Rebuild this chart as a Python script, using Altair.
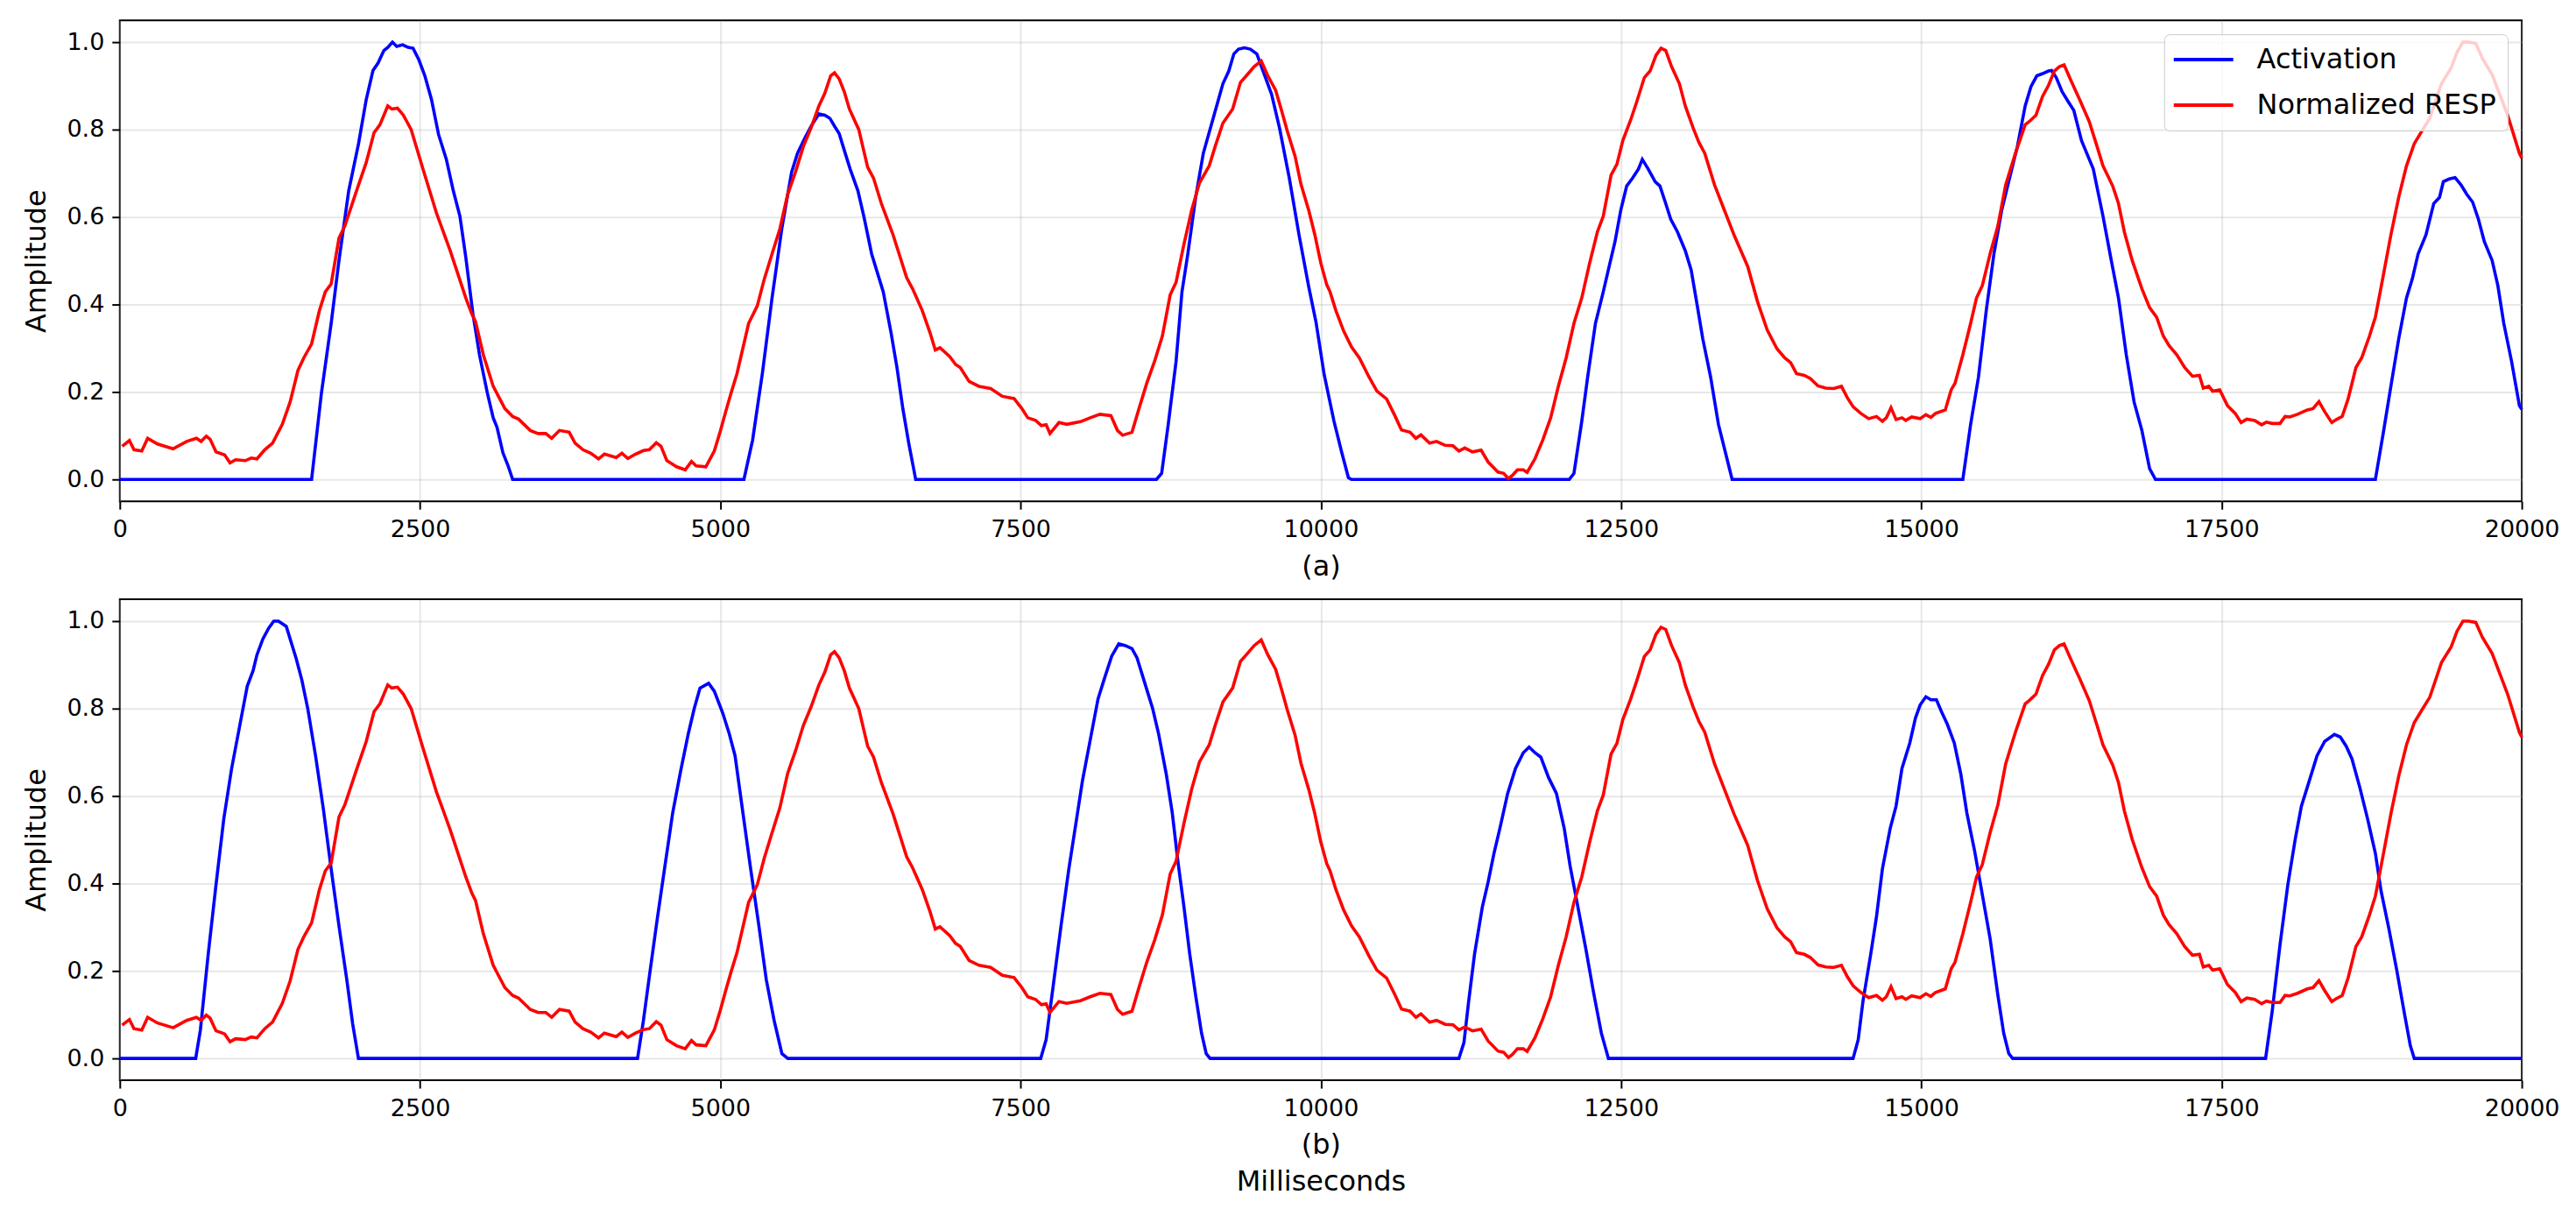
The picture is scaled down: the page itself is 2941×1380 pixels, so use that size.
import altair as alt
import pandas as pd

# ---------------- data ----------------
# Normalized RESP (same trace in both panels): time (ms) and value
resp_ms = [20, 80, 118, 183, 232, 314, 444, 557, 638, 677, 720, 752, 801, 873, 918, 964,
           1045, 1094, 1142, 1207, 1272, 1353, 1418, 1483, 1532, 1597, 1662, 1711, 1760, 1825,
           1874, 1971, 2052, 2117, 2166, 2231, 2264, 2312, 2361, 2426, 2524, 2637, 2751, 2881,
           2930, 2962, 3027, 3109, 3206, 3271, 3320, 3418, 3483, 3547, 3596, 3661, 3742, 3791,
           3856, 3921, 3986, 4035, 4133, 4181, 4230, 4295, 4360, 4409, 4467, 4506, 4555, 4636,
           4708, 4760, 4799, 4880, 4950, 5000, 5045, 5090, 5139, 5187, 5236, 5308, 5366, 5431,
           5496, 5561, 5626, 5691, 5756, 5821, 5870, 5919, 5951, 5990, 6032, 6075, 6153, 6227,
           6276, 6341, 6439, 6552, 6601, 6682, 6747, 6790, 6829, 6910, 6959, 6998, 7072, 7154,
           7251, 7349, 7446, 7511, 7560, 7625, 7674, 7713, 7745, 7820, 7885, 7999, 8080, 8161,
           8252, 8307, 8350, 8428, 8486, 8551, 8616, 8681, 8746, 8795, 8860, 8925, 8990, 9071,
           9120, 9185, 9266, 9331, 9380, 9445, 9504, 9559, 9624, 9673, 9721, 9786, 9835, 9900,
           9950, 10000, 10050, 10077, 10126, 10191, 10256, 10321, 10402, 10467, 10548, 10613,
           10672, 10743, 10792, 10834, 10906, 10964, 11036, 11101, 11150, 11199, 11263, 11335,
           11393, 11475, 11523, 11562, 11595, 11637, 11686, 11718, 11783, 11848, 11914, 11978,
           12043, 12108, 12173, 12238, 12303, 12352, 12417, 12466, 12515, 12580, 12629, 12694,
           12742, 12791, 12833, 12872, 12921, 12986, 13035, 13100, 13148, 13197, 13278, 13360,
           13441, 13522, 13555, 13636, 13717, 13798, 13863, 13912, 13961, 14026, 14075, 14140,
           14205, 14270, 14335, 14384, 14433, 14497, 14562, 14627, 14676, 14709, 14748, 14790,
           14839, 14871, 14920, 14990, 15038, 15080, 15119, 15200, 15249, 15281, 15346, 15411,
           15460, 15508, 15573, 15638, 15703, 15784, 15865, 15897, 15955, 16010, 16059, 16108,
           16150, 16189, 16253, 16318, 16399, 16464, 16513, 16594, 16642, 16691, 16756, 16837,
           16901, 16960, 17015, 17063, 17128, 17193, 17258, 17316, 17348, 17394, 17426, 17485,
           17549, 17614, 17663, 17711, 17776, 17834, 17873, 17922, 17987, 18029, 18068, 18133,
           18214, 18262, 18311, 18359, 18418, 18457, 18505, 18554, 18619, 18667, 18732, 18781,
           18846, 18910, 18975, 19040, 19105, 19169, 19234, 19331, 19412, 19461, 19510, 19558,
           19617, 19672, 19753, 19817, 19882, 19980, 20000]
resp_val = [0.076, 0.089, 0.068, 0.065, 0.094, 0.081, 0.070, 0.087, 0.094, 0.087, 0.099, 0.092,
            0.063, 0.056, 0.038, 0.045, 0.043, 0.049, 0.047, 0.068, 0.083, 0.126, 0.177, 0.249,
            0.278, 0.310, 0.386, 0.429, 0.447, 0.552, 0.580, 0.660, 0.725, 0.793, 0.811, 0.854,
            0.847, 0.849, 0.833, 0.800, 0.710, 0.609, 0.523, 0.415, 0.379, 0.361, 0.285, 0.213,
            0.162, 0.144, 0.138, 0.112, 0.105, 0.105, 0.094, 0.112, 0.108, 0.083, 0.068, 0.060,
            0.047, 0.058, 0.050, 0.060, 0.048, 0.058, 0.066, 0.068, 0.084, 0.076, 0.043, 0.029,
            0.022, 0.041, 0.031, 0.029, 0.065, 0.110, 0.155, 0.198, 0.242, 0.299, 0.357, 0.397,
            0.458, 0.516, 0.573, 0.652, 0.703, 0.761, 0.804, 0.854, 0.883, 0.923, 0.930, 0.916,
            0.887, 0.847, 0.800, 0.714, 0.689, 0.631, 0.559, 0.461, 0.436, 0.386, 0.335, 0.296,
            0.301, 0.281, 0.263, 0.256, 0.224, 0.213, 0.208, 0.190, 0.185, 0.162, 0.141, 0.135,
            0.123, 0.125, 0.105, 0.130, 0.126, 0.132, 0.141, 0.149, 0.146, 0.112, 0.101, 0.108,
            0.162, 0.220, 0.270, 0.328, 0.422, 0.451, 0.537, 0.616, 0.678, 0.717, 0.761, 0.815,
            0.847, 0.908, 0.923, 0.944, 0.957, 0.923, 0.890, 0.844, 0.797, 0.739, 0.675, 0.615,
            0.560, 0.495, 0.445, 0.429, 0.386, 0.339, 0.303, 0.278, 0.234, 0.202, 0.184, 0.148,
            0.113, 0.108, 0.094, 0.102, 0.083, 0.087, 0.078, 0.077, 0.065, 0.072, 0.063, 0.067,
            0.040, 0.017, 0.014, 0.002, 0.009, 0.022, 0.022, 0.016, 0.047, 0.090, 0.141, 0.213,
            0.278, 0.357, 0.415, 0.494, 0.566, 0.602, 0.696, 0.721, 0.775, 0.822, 0.862, 0.919,
            0.934, 0.970, 0.986, 0.981, 0.944, 0.905, 0.854, 0.804, 0.771, 0.746, 0.674, 0.616,
            0.559, 0.508, 0.487, 0.407, 0.342, 0.299, 0.278, 0.267, 0.242, 0.238, 0.231, 0.214,
            0.209, 0.208, 0.213, 0.187, 0.166, 0.151, 0.139, 0.144, 0.133, 0.141, 0.164, 0.137,
            0.141, 0.135, 0.143, 0.139, 0.148, 0.142, 0.151, 0.159, 0.205, 0.220, 0.285, 0.357,
            0.415, 0.443, 0.516, 0.580, 0.674, 0.746, 0.811, 0.818, 0.833, 0.876, 0.901, 0.934,
            0.944, 0.948, 0.908, 0.869, 0.818, 0.761, 0.717, 0.671, 0.631, 0.566, 0.501, 0.436,
            0.393, 0.371, 0.328, 0.306, 0.285, 0.256, 0.236, 0.238, 0.209, 0.213, 0.202, 0.205,
            0.169, 0.151, 0.130, 0.138, 0.135, 0.125, 0.131, 0.128, 0.128, 0.144, 0.143, 0.149,
            0.159, 0.162, 0.178, 0.155, 0.130, 0.137, 0.144, 0.184, 0.256, 0.278, 0.328, 0.371,
            0.465, 0.559, 0.645, 0.717, 0.768, 0.797, 0.826, 0.905, 0.941, 0.977, 1.000, 1.000,
            0.997, 0.963, 0.926, 0.880, 0.833, 0.746, 0.735]

# Activation, panel (a)
act_a_ms = [0, 1597, 1679, 1760, 1825, 1906, 1988, 2052, 2108, 2150, 2199, 2231, 2270, 2306,
            2355, 2400, 2442, 2491, 2540, 2595, 2654, 2719, 2777, 2832, 2881, 2940, 2995, 3060,
            3109, 3141, 3190, 3232, 3271,
            5197, 5269, 5350, 5431, 5512, 5594, 5643, 5707, 5763, 5821, 5870, 5912, 5951, 5990,
            6032, 6081, 6146, 6195, 6260, 6357, 6422, 6471, 6520, 6569, 6627,
            8632, 8675, 8730, 8795, 8844, 8893, 8958, 9022, 9104, 9185, 9234, 9276, 9315, 9364,
            9413, 9468, 9510, 9591, 9656, 9738, 9819, 9900, 9960, 10028, 10110, 10175, 10230, 10256,
            12069, 12108, 12173, 12222, 12287, 12352, 12401, 12450, 12498, 12547, 12596, 12645,
            12677, 12726, 12784, 12824, 12872, 12914, 12970, 13035, 13084, 13133, 13181, 13246,
            13311, 13376, 13425,
            15346, 15411, 15476, 15541, 15605, 15670, 15735, 15800, 15865, 15913, 15962, 16010,
            16059, 16085, 16124, 16172, 16221, 16270, 16334, 16432, 16513, 16577, 16642, 16707,
            16772, 16837, 16901, 16950,
            18781, 18846, 18910, 18975, 19040, 19088, 19137, 19202, 19267, 19315, 19347, 19396,
            19445, 19493, 19542, 19591, 19639, 19688, 19753, 19801, 19850, 19915, 19980, 20000]
act_a_val = [0, 0, 0.198, 0.357, 0.501, 0.660, 0.768, 0.869, 0.935, 0.952, 0.981, 0.988, 1.000,
             0.990, 0.994, 0.988, 0.986, 0.959, 0.923, 0.869, 0.789, 0.732, 0.660, 0.602, 0.508,
             0.379, 0.285, 0.198, 0.141, 0.119, 0.061, 0.032, 0,
             0, 0.090, 0.242, 0.415, 0.573, 0.703, 0.746, 0.782, 0.811, 0.836, 0.833, 0.826,
             0.808, 0.791, 0.753, 0.710, 0.660, 0.602, 0.516, 0.429, 0.335, 0.256, 0.162, 0.083, 0,
             0, 0.014, 0.126, 0.270, 0.429, 0.516, 0.645, 0.746, 0.826, 0.905, 0.934, 0.973,
             0.984, 0.987, 0.984, 0.973, 0.941, 0.880, 0.804, 0.689, 0.559, 0.440, 0.360, 0.240,
             0.133, 0.061, 0.004, 0,
             0, 0.014, 0.133, 0.234, 0.357, 0.429, 0.487, 0.544, 0.616, 0.671, 0.689, 0.710,
             0.732, 0.710, 0.681, 0.671, 0.631, 0.595, 0.566, 0.523, 0.479, 0.400, 0.321, 0.234,
             0.126, 0.054, 0,
             0, 0.126, 0.234, 0.386, 0.516, 0.616, 0.689, 0.761, 0.854, 0.898, 0.923, 0.928,
             0.934, 0.935, 0.919, 0.887, 0.865, 0.844, 0.775, 0.710, 0.602, 0.508, 0.415, 0.285,
             0.177, 0.112, 0.025, 0,
             0, 0.105, 0.213, 0.321, 0.415, 0.458, 0.516, 0.559, 0.631, 0.645, 0.681, 0.687,
             0.690, 0.674, 0.652, 0.634, 0.595, 0.544, 0.501, 0.443, 0.357, 0.270, 0.169, 0.160]

# Activation, panel (b)
act_b_ms = [0, 632, 671, 736, 801, 866, 931, 996, 1061, 1110, 1142, 1191, 1240, 1282, 1321,
            1386, 1467, 1516, 1565, 1630, 1695, 1760, 1825, 1890, 1939, 1987,
            4311, 4360, 4409, 4474, 4539, 4604, 4669, 4734, 4783, 4831, 4903, 4950, 5020, 5074,
            5123, 5188, 5253, 5318, 5383, 5448, 5513, 5562,
            7668, 7713, 7772, 7837, 7902, 7967, 8015, 8080, 8145, 8194, 8259, 8318, 8373, 8428,
            8470, 8535, 8600, 8649, 8714, 8763, 8812, 8861, 8909, 8958, 9007, 9046, 9078,
            11150, 11192, 11231, 11280, 11345, 11394, 11442, 11491, 11556, 11621, 11686, 11735,
            11784, 11832, 11897, 11962, 12027, 12076, 12141, 12206, 12271, 12336, 12395,
            14432, 14475, 14514, 14579, 14627, 14676, 14741, 14790, 14839, 14904, 14952, 14990,
            15038, 15080, 15126, 15168, 15217, 15275, 15330, 15379, 15443, 15508, 15573, 15638,
            15686, 15729, 15761,
            17867, 17922, 17987, 18052, 18116, 18165, 18230, 18295, 18359, 18440, 18489, 18538,
            18586, 18651, 18716, 18781, 18829, 18894, 18959, 19024, 19072, 19105, 20000]
act_b_val = [0, 0, 0.065, 0.238, 0.397, 0.548, 0.663, 0.757, 0.851, 0.887, 0.923, 0.959, 0.984,
             1.000, 1.000, 0.988, 0.916, 0.865, 0.800, 0.692, 0.570, 0.433, 0.303, 0.180, 0.079, 0,
             0, 0.087, 0.187, 0.317, 0.440, 0.562, 0.656, 0.743, 0.800, 0.847, 0.858, 0.840,
             0.790, 0.743, 0.692, 0.562, 0.433, 0.310, 0.180, 0.087, 0.011, 0,
             0, 0.043, 0.166, 0.303, 0.433, 0.548, 0.634, 0.728, 0.822, 0.865, 0.920, 0.948,
             0.944, 0.937, 0.916, 0.858, 0.800, 0.743, 0.649, 0.562, 0.447, 0.346, 0.238, 0.144,
             0.058, 0.011, 0,
             0, 0.036, 0.130, 0.238, 0.346, 0.404, 0.469, 0.526, 0.606, 0.663, 0.699, 0.712,
             0.699, 0.689, 0.642, 0.606, 0.526, 0.440, 0.346, 0.252, 0.151, 0.058, 0,
             0, 0.043, 0.130, 0.238, 0.324, 0.433, 0.526, 0.577, 0.663, 0.721, 0.779, 0.808,
             0.827, 0.820, 0.820, 0.793, 0.764, 0.721, 0.649, 0.562, 0.476, 0.375, 0.274, 0.144,
             0.058, 0.011, 0,
             0, 0.108, 0.260, 0.397, 0.505, 0.577, 0.634, 0.692, 0.725, 0.741, 0.735, 0.714,
             0.685, 0.620, 0.548, 0.469, 0.382, 0.296, 0.202, 0.101, 0.029, 0, 0]

series_names = ["Activation", "Normalized RESP"]
series_colors = ["#0000ff", "#ff0000"]
x_ticks = [0, 2500, 5000, 7500, 10000, 12500, 15000, 17500, 20000]
y_ticks = [0.0, 0.2, 0.4, 0.6, 0.8, 1.0]

FONT = "DejaVu Sans"
PLOT_W, PLOT_H = 2747, 550


def make_panel(act_ms, act_val, xtitle):
    act_df = pd.DataFrame({"ms": act_ms, "amp": act_val, "series": series_names[0]})
    resp_df = pd.DataFrame({"ms": resp_ms, "amp": resp_val, "series": series_names[1]})

    x = alt.X("ms:Q",
              scale=alt.Scale(domain=[0, 20000], nice=False, zero=False),
              axis=alt.Axis(values=x_ticks, format="d", title=xtitle,
                            labelFlush=False, labelOverlap=False,
                            labelPadding=10, titlePadding=14, titleLineHeight=42))
    y = alt.Y("amp:Q",
              scale=alt.Scale(domain=[-0.05, 1.05], nice=False, zero=False),
              axis=alt.Axis(values=y_ticks, format=".1f", title="Amplitude",
                            labelPadding=9, titlePadding=17))
    color = alt.Color("series:N",
                      scale=alt.Scale(domain=series_names, range=series_colors),
                      legend=alt.Legend(title=None, orient="top-right", offset=16,
                                        symbolType="M-2.43,0H2.43", symbolSize=784,
                                        symbolStrokeWidth=4, symbolOffset=16,
                                        labelOffset=45, labelLimit=0,
                                        labelFont=FONT, labelFontSize=32,
                                        labelColor="black", padding=13, rowPadding=20,
                                        fillColor="rgba(255,255,255,0.8)",
                                        strokeColor="#cccccc", cornerRadius=6))
    act_line = alt.Chart(act_df).mark_line(strokeWidth=3.6).encode(x=x, y=y, color=color)
    resp_line = alt.Chart(resp_df).mark_line(strokeWidth=3.6).encode(x=x, y=y, color=color)
    return alt.layer(act_line, resp_line).properties(width=PLOT_W, height=PLOT_H)


top = make_panel(act_a_ms, act_a_val, "(a)")
bottom = make_panel(act_b_ms, act_b_val, ["(b)", "Milliseconds"])

chart = (
    alt.vconcat(top, bottom, spacing=20)
    .properties(padding={"left": 17, "top": 13, "right": 10, "bottom": 10},
                background="white")
    .configure_view(stroke="black", strokeWidth=2)
    .configure_axis(labelFont=FONT, labelFontSize=27, labelColor="black",
                    titleFont=FONT, titleFontSize=32, titleFontWeight="normal",
                    titleColor="black", tickColor="black", tickSize=9, tickWidth=2,
                    domain=False, grid=True, gridColor="#b0b0b0", gridOpacity=0.3,
                    gridWidth=2)
)

chart.save("out.html", embed_options={"renderer": "svg", "actions": False})
